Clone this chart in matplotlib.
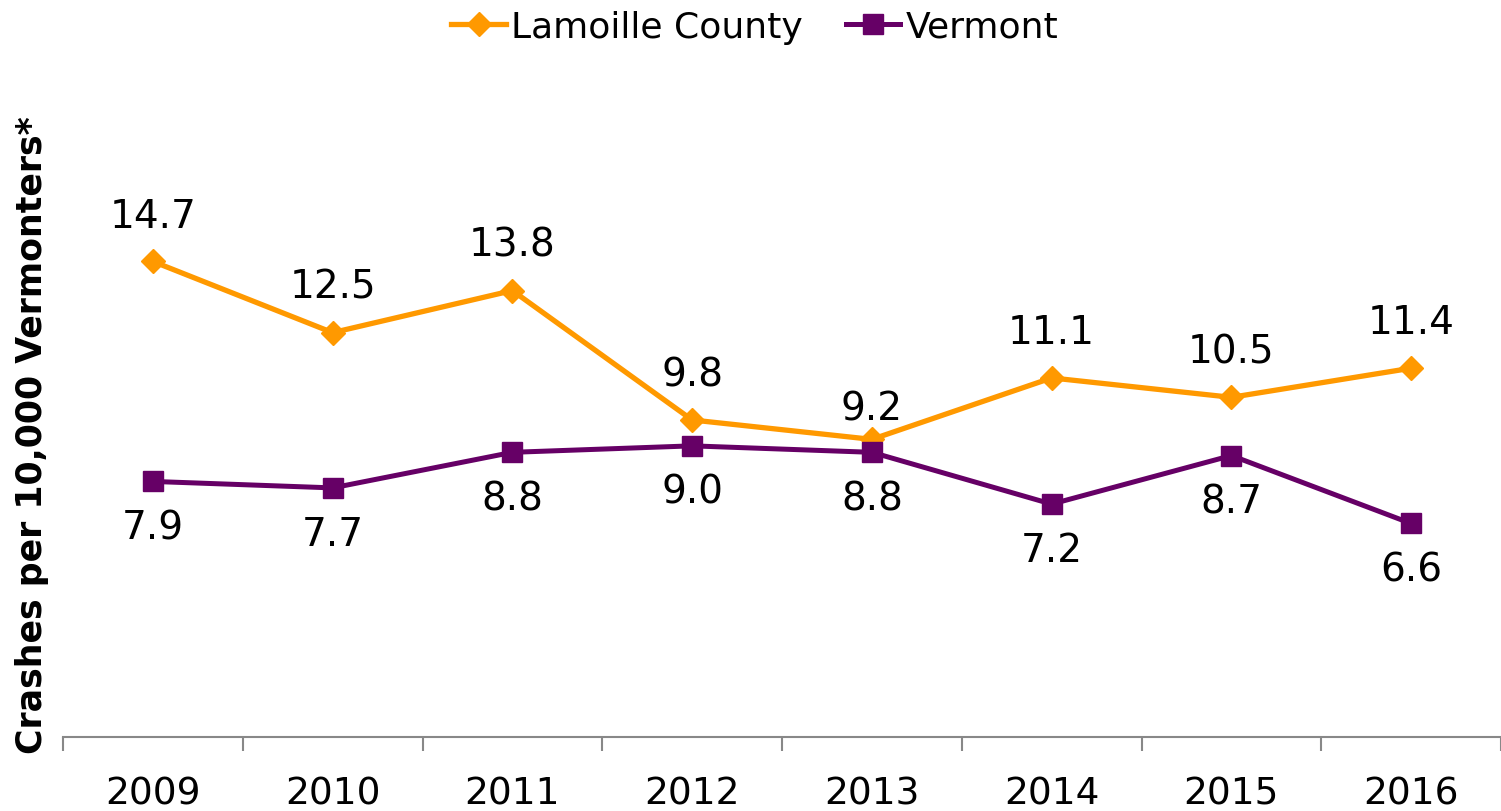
import numpy as np
import matplotlib
matplotlib.use("Agg")
import matplotlib.pyplot as plt

years = ["2009", "2010", "2011", "2012", "2013", "2014", "2015", "2016"]
lamoille = [14.7, 12.5, 13.8, 9.8, 9.2, 11.1, 10.5, 11.4]
vermont = [7.9, 7.7, 8.8, 9.0, 8.8, 7.2, 8.7, 6.6]

# label offsets in points (above for Lamoille, below for Vermont)
lam_off = [33, 33, 33, 33, 22, 33, 33, 33]
vt_off = [-33, -33, -33, -33, -33, -33, -33, -33]

ORANGE = "#FF9900"
PURPLE = "#660066"

plt.rcParams["font.family"] = ["DejaVu Sans"]

fig = plt.figure(figsize=(15.01, 8.12), dpi=100)
ax = fig.add_axes([63 / 1501, 74 / 812, 1438 / 1501, 647 / 812])

xs = np.arange(len(years))
l1, = ax.plot(xs, lamoille, color=ORANGE, lw=3.8, marker="D", ms=12,
              label="Lamoille County", clip_on=False)
l2, = ax.plot(xs, vermont, color=PURPLE, lw=3.6, marker="s", ms=15,
              label="Vermont", clip_on=False)

for x, v, o in zip(xs, lamoille, lam_off):
    ax.annotate(f"{v:.1f}", (x, v), xytext=(0, o), textcoords="offset points",
                ha="center", va="center", fontsize=28, color="black")
for x, v, o in zip(xs, vermont, vt_off):
    ax.annotate(f"{v:.1f}", (x, v), xytext=(0, o), textcoords="offset points",
                ha="center", va="center", fontsize=28, color="black")

ax.set_xlim(-0.5, len(years) - 0.5)
ax.set_ylim(0, 20)

ax.set_xticks(np.arange(len(years) + 1) - 0.5)
ax.set_xticklabels([])
ax.tick_params(axis="x", which="major", length=10, width=1.5, color="#888888")
ax.set_xticks(xs, minor=True)
ax.set_xticklabels(years, minor=True, fontsize=27)
ax.tick_params(axis="x", which="minor", length=0, pad=28)

ax.set_yticks([])
for s in ["top", "right", "left"]:
    ax.spines[s].set_visible(False)
ax.spines["bottom"].set_color("#888888")
ax.spines["bottom"].set_linewidth(1.5)

fig.text(32 / 1501, 1 - 435 / 812, "Crashes per 10,000 Vermonters*",
         rotation=90, ha="center", va="center", fontsize=25, fontweight="bold")

fig.legend(handles=[l1, l2], loc="center", bbox_to_anchor=(755 / 1501, 1 - 28 / 812),
           ncol=2, frameon=False, fontsize=26, handlelength=1.5,
           handletextpad=0.15, columnspacing=1.2, borderaxespad=0)

fig.savefig("out.png", dpi=100)
